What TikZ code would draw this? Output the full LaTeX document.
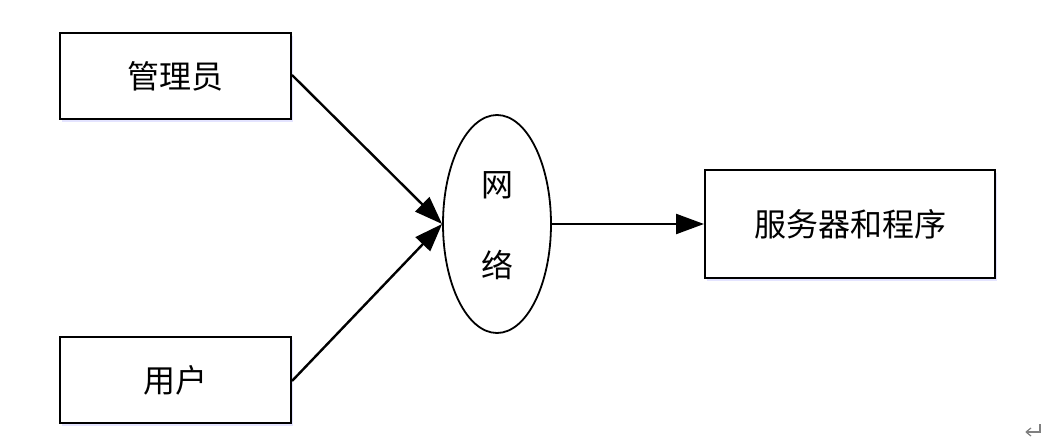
\documentclass[tikz,border=0pt]{standalone}
\usepackage{fontspec}
\setmainfont{Noto Sans CJK SC}
\usetikzlibrary{arrows.meta,shapes.geometric,shadows}
\tikzset{
  txt/.style={font=\fontsize{32}{38}\selectfont},
  box/.style={draw=black, line width=2pt, fill=white, inner sep=0pt, txt,
    drop shadow={shadow xshift=2pt, shadow yshift=-3pt, fill=blue!30, opacity=0.35}},
  net/.style={draw=black, line width=1.8pt, ellipse, fill=white, inner sep=0pt,
    minimum width=108pt, minimum height=218pt},
  conn/.style={line width=2.4pt, -{Triangle[length=28pt, width=20pt]}}
}
\begin{document}
\begin{tikzpicture}[x=1pt,y=1pt]
\useasboundingbox (0,0) rectangle (1052,440);
\node[box, minimum width=231pt, minimum height=86pt] (admin) at (175.5,364) {管理员};
\node[box, minimum width=231pt, minimum height=86pt] (user) at (175.5,60) {用户};
\node[net] (net) at (497,216) {};
\node[txt] (wang) at (497,255) {网};
\node[txt] (luo) at (497,175) {络};
\node[box, minimum width=290pt, minimum height=108pt] (server) at (850,216) {服务器和程序};
\draw[conn] (admin.east) ++(0,1) coordinate (a1) -- (net.west);
\draw[conn] (user.east) ++(0,-1) coordinate (b1) -- (net.west);
\draw[conn] (net.east) -- (server.west);
\coordinate (pm) at (1040,16);
\draw[gray, line width=1.2pt] (pm) -- ++(0,-8) -- ++(-14,0);
\draw[gray, line width=1.2pt] (1026,8) -- ++(5,4);
\draw[gray, line width=1.2pt] (1026,8) -- ++(5,-4);
\end{tikzpicture}
\end{document}
